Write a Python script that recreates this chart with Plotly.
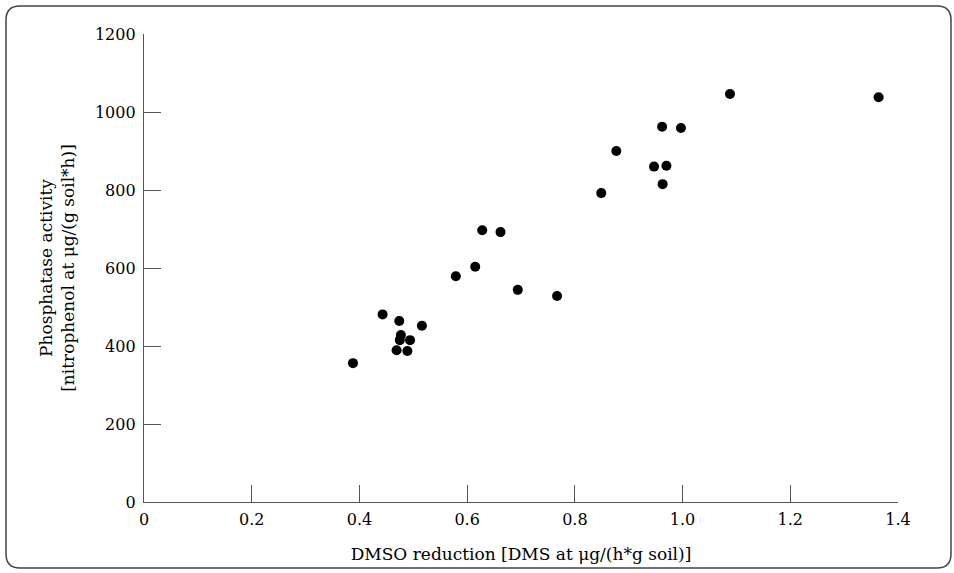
import plotly.graph_objects as go

# Data
dmso_reduction = [0.388, 0.443, 0.474, 0.516, 0.477, 0.475, 0.494, 0.469, 0.489,
                  0.579, 0.615, 0.628, 0.662, 0.694, 0.767,
                  0.849, 0.877, 0.947, 0.970, 0.963, 0.962, 0.997,
                  1.088, 1.364]
phosphatase = [356, 481, 464, 452, 428, 415, 415, 389, 387,
               579, 603, 697, 692, 544, 528,
               792, 900, 860, 862, 815, 962, 959,
               1046, 1038]

x_ticks = [0, 0.2, 0.4, 0.6, 0.8, 1.0, 1.2, 1.4]
x_tick_labels = ["0", "0.2", "0.4", "0.6", "0.8", "1.0", "1.2", "1.4"]
y_ticks = [0, 200, 400, 600, 800, 1000, 1200]
y_tick_labels = ["0", "200", "400", "600", "800", "1000", "1200"]

FONT = "DejaVu Serif"
W, H = 954, 573
ML, MR, MT, MB = 144, 56, 34, 71
PW, PH = W - ML - MR, H - MT - MB
AX = "#555555"

fig = go.Figure()
fig.add_trace(go.Scatter(
    x=dmso_reduction, y=phosphatase, mode="markers",
    marker=dict(color="black", size=10, line=dict(width=0)),
    cliponaxis=False, showlegend=False,
))

def px2paper(px, py):
    return (px - ML) / PW, (H - MB - py) / PH

# rounded frame around the whole figure
x0, y0, x1, y1, r = 6, 6, 951, 568, 14
def P(px, py):
    a, b = px2paper(px, py)
    return f"{a:.5f},{b:.5f}"
path = (f"M {P(x0 + r, y0)} L {P(x1 - r, y0)} Q {P(x1, y0)} {P(x1, y0 + r)} "
        f"L {P(x1, y1 - r)} Q {P(x1, y1)} {P(x1 - r, y1)} "
        f"L {P(x0 + r, y1)} Q {P(x0, y1)} {P(x0, y1 - r)} "
        f"L {P(x0, y0 + r)} Q {P(x0, y0)} {P(x0 + r, y0)} Z")
fig.add_shape(type="path", path=path, xref="paper", yref="paper",
              line=dict(color="#444444", width=1.5), layer="below")

fig.update_layout(
    width=W, height=H,
    margin=dict(l=ML, r=MR, t=MT, b=MB, pad=0),
    paper_bgcolor="white", plot_bgcolor="white",
    font=dict(family=FONT, size=16, color="black"),
    xaxis=dict(
        range=[0, 1.4], tickvals=x_ticks, ticktext=x_tick_labels,
        showgrid=False, zeroline=False, showline=True, linecolor=AX, linewidth=1.3,
        ticks="inside", ticklen=17, tickcolor=AX, tickwidth=1.3,
        title=dict(text="DMSO reduction [DMS at μg/(h*g soil)]", standoff=19,
                   font=dict(size=17)),
        tickfont=dict(size=16), ticklabelstandoff=3,
    ),
    yaxis=dict(
        range=[0, 1200], tickvals=y_ticks, ticktext=y_tick_labels,
        showgrid=False, zeroline=False, showline=True, linecolor=AX, linewidth=1.3,
        ticks="inside", ticklen=17, tickcolor=AX, tickwidth=1.3,
        title=dict(text="Phosphatase activity<br>[nitrophenol at μg/(g soil*h)]",
                   standoff=15, font=dict(size=17)),
        tickfont=dict(size=16), ticklabelstandoff=4,
    ),
)

fig.write_html("out.html")
